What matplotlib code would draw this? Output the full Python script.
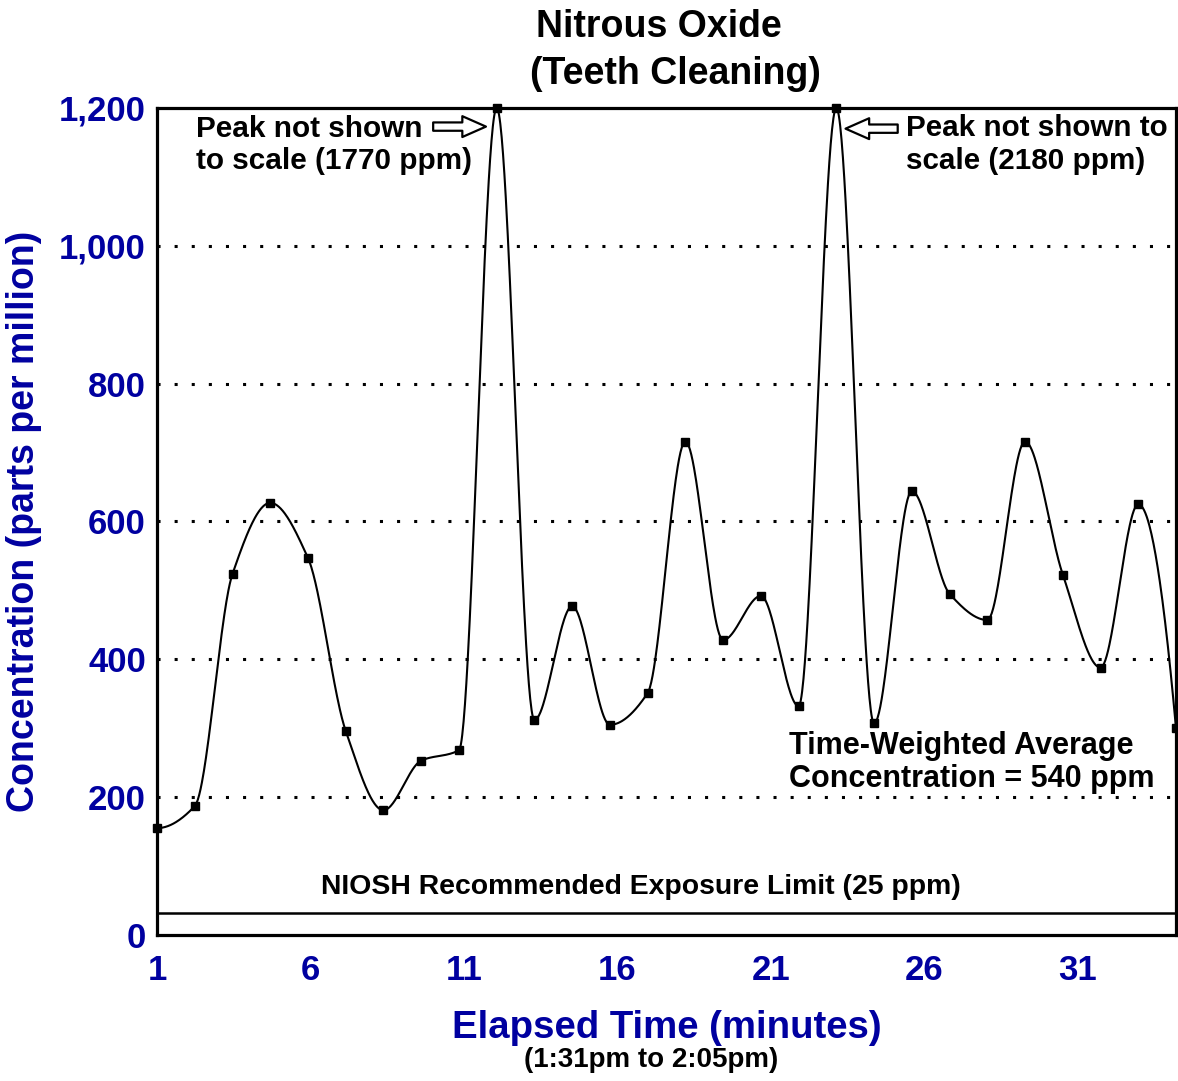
"""Nitrous oxide exposure during teeth cleaning: sampled ppm with a smooth shape-preserving curve."""
import numpy as np
import matplotlib; matplotlib.use("Agg"); import matplotlib.pyplot as plt

# sample times (elapsed minutes) and concentrations (ppm); the two peaks are clipped to the 1,200 axis top
TIMES = [1.00, 2.23, 3.46, 4.69, 5.92, 7.15, 8.38, 9.61, 10.84, 12.07, 13.30, 14.53, 15.76, 16.99,
         18.22, 19.45, 20.68, 21.91, 23.14, 24.37, 25.60, 26.83, 28.06, 29.29, 30.52, 31.75, 32.98, 34.21]
PPM = [155, 187, 524, 627, 547, 296, 181, 253, 268, 1200, 312, 477, 305, 351,
       716, 428, 492, 332, 1200, 307, 644, 495, 457, 716, 523, 388, 625, 300]
X_TICKS = [1, 6, 11, 16, 21, 26, 31]
Y_TICKS = [0, 200, 400, 600, 800, 1000, 1200]
Y_TICK_LABELS = ["0", "200", "400", "600", "800", "1,000", "1,200"]
GRID_LEVELS = [200, 400, 600, 800, 1000]
REL_LINE = 32  # where the 25 ppm limit line sits in the picture
BLUE = "#0000a0"


def pchip(x, y, xs):
    # Fritsch-Carlson monotone cubic, endpoints like scipy's PchipInterpolator
    x = np.asarray(x, float); y = np.asarray(y, float)
    h = np.diff(x); d = np.diff(y) / h; n = len(x); m = np.zeros(n)
    for k in range(1, n - 1):
        if d[k - 1] * d[k] > 0:
            w1 = 2 * h[k] + h[k - 1]; w2 = h[k] + 2 * h[k - 1]
            m[k] = (w1 + w2) / (w1 / d[k - 1] + w2 / d[k])

    def end(h0, h1, d0, d1):
        s = ((2 * h0 + h1) * d0 - h0 * d1) / (h0 + h1)
        if np.sign(s) != np.sign(d0): return 0.0
        if np.sign(d0) != np.sign(d1) and abs(s) > abs(3 * d0): return 3 * d0
        return s
    m[0] = end(h[0], h[1], d[0], d[1]); m[-1] = end(h[-1], h[-2], d[-1], d[-2])
    i = np.clip(np.searchsorted(x, xs) - 1, 0, n - 2)
    t = (xs - x[i]) / h[i]
    h00 = 2 * t**3 - 3 * t**2 + 1; h10 = t**3 - 2 * t**2 + t
    h01 = -2 * t**3 + 3 * t**2; h11 = t**3 - t**2
    return h00 * y[i] + h10 * h[i] * m[i] + h01 * y[i + 1] + h11 * h[i] * m[i + 1]


plt.rcParams["font.family"] = ["Liberation Sans", "DejaVu Sans"]
plt.rcParams["font.weight"] = "bold"
fig = plt.figure(figsize=(11.78, 10.81), dpi=100)
ax = fig.add_axes([0.1333, 0.1351, 0.8650, 0.7650])

xs = np.linspace(TIMES[0], TIMES[-1], 1500)
ax.plot(xs, pchip(TIMES, PPM, xs), color="black", lw=1.5, zorder=3)
ax.plot(TIMES, PPM, ls="none", marker="s", ms=6, color="black", clip_on=False, zorder=4)

for g in GRID_LEVELS:
    ax.axhline(g, color="black", lw=2.2, ls=(0, (1, 4.6)), zorder=1)
ax.axhline(REL_LINE, color="black", lw=1.8, zorder=2)

ax.set_xlim(TIMES[0], TIMES[-1]); ax.set_ylim(0, 1200)
ax.set_xticks(X_TICKS); ax.set_yticks(Y_TICKS); ax.set_yticklabels(Y_TICK_LABELS)
ax.tick_params(length=0, labelsize=25, labelcolor=BLUE)
ax.tick_params(axis="x", pad=14); ax.tick_params(axis="y", pad=8)
for lab in ax.get_xticklabels() + ax.get_yticklabels():
    lab.set_fontweight("bold")
for sp in ax.spines.values():
    sp.set_linewidth(2.3)

ax.set_ylabel("Concentration (parts per million)", fontsize=27, color=BLUE, fontweight="bold", labelpad=12)
fig.text(0.566, 0.049, "Elapsed Time (minutes)", fontsize=27.6, color=BLUE, fontweight="bold", ha="center", va="center")
fig.text(0.553, 0.019, "(1:31pm to 2:05pm)", fontsize=20, fontweight="bold", ha="center", va="center")
fig.text(0.559, 0.975, "Nitrous Oxide", fontsize=27, fontweight="bold", ha="center", va="center")
fig.text(0.573, 0.932, "(Teeth Cleaning)", fontsize=27, fontweight="bold", ha="center", va="center")

ax.text(2.27, 1190, "Peak not shown\nto scale (1770 ppm)", fontsize=21.4, fontweight="bold", va="top", linespacing=1.17)
ax.text(25.4, 1191, "Peak not shown to\nscale (2180 ppm)", fontsize=21.3, fontweight="bold", va="top", linespacing=1.2)
ax.text(21.6, 296, "Time-Weighted Average\nConcentration = 540 ppm", fontsize=22, fontweight="bold", va="top", linespacing=1.14)
ax.text(16.77, 70, "NIOSH Recommended Exposure Limit (25 ppm)", fontsize=20.4, fontweight="bold", ha="center", va="center")

arrow = dict(arrowstyle="simple,head_width=1.5,head_length=1.7,tail_width=0.6",
             facecolor="white", edgecolor="black", lw=1.6, shrinkA=0, shrinkB=0)
ax.annotate("", xy=(11.72, 1173), xytext=(10.0, 1173), arrowprops=arrow)
ax.annotate("", xy=(23.44, 1170), xytext=(25.14, 1170), arrowprops=arrow)

fig.savefig("out.png", dpi=100)
